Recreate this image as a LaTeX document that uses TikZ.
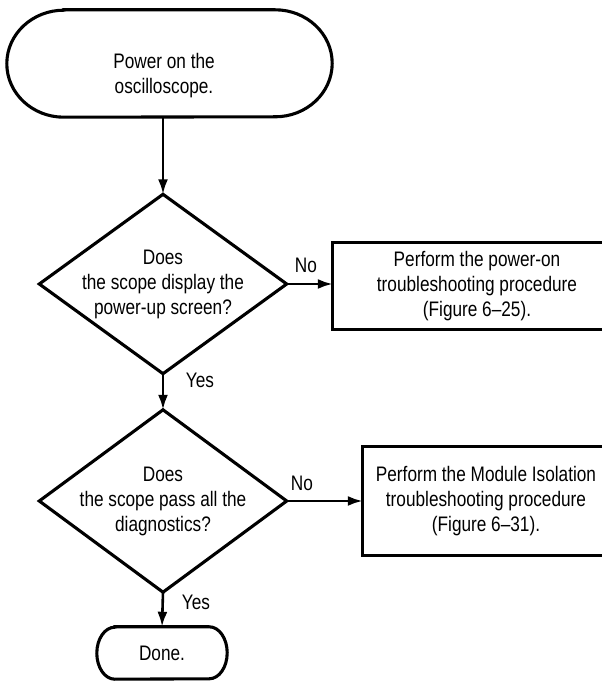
\documentclass[tikz,border=0pt]{standalone}
\usepackage{fontspec}
\setmainfont{Liberation Sans}[FakeStretch=0.82]
\usetikzlibrary{arrows.meta}
\begin{document}
\begin{tikzpicture}[x=1pt,y=1pt,
  shapeline/.style={line width=3.1pt, line join=miter},
  conn/.style={line width=2.6pt, -{Latex[length=15pt,width=10pt]}},
  txt/.style={align=center, font=\fontsize{21}{25}\selectfont, inner sep=0pt},
  lbl/.style={font=\fontsize{21}{25}\selectfont, inner sep=0pt},
  holder/.style={draw=none, inner sep=0pt, shape=rectangle, align=center, font=\fontsize{21}{25}\selectfont}
]
\path[use as bounding box, clip] (0,0) rectangle (602,681);
\fill[white] (0,0) rectangle (602,681);

% start terminator
\node[holder, minimum width=325pt, minimum height=107pt] (t1) at (169.5,617.5) {};
\draw[shapeline] ([xshift=57pt]t1.north west) -- ([xshift=-57pt]t1.north east)
  arc[start angle=90, end angle=-90, x radius=57pt, y radius=53.5pt]
  -- ([xshift=57pt]t1.south west)
  arc[start angle=270, end angle=90, x radius=57pt, y radius=53.5pt] -- cycle;
\node[txt] (t1txt) at (164,605) {Power on the\\oscilloscope.};

% decision 1
\node[holder, minimum width=247pt, minimum height=179pt] (d1) at (163,397) {Does\\the scope display the\\power-up screen?};
\draw[shapeline] (d1.north) -- (d1.east) -- (d1.south) -- (d1.west) -- cycle;

% box 1 (runs past the right edge)
\node[holder, minimum width=288pt, minimum height=86pt] (b1) at (477,395) {Perform the power-on\\troubleshooting procedure\\(Figure 6--25).};
\draw[shapeline] (b1.north east) -- (b1.north west) -- (b1.south west) -- (b1.south east);

% decision 2
\node[holder, minimum width=247pt, minimum height=182pt] (d2) at (163,180) {Does\\the scope pass all the\\diagnostics?};
\draw[shapeline] (d2.north) -- (d2.east) -- (d2.south) -- (d2.west) -- cycle;

% box 2 (runs past the right edge)
\node[holder, minimum width=246pt, minimum height=108pt] (b2) at (486,180) {Perform the Module Isolation\\troubleshooting procedure\\(Figure 6--31).};
\draw[shapeline] (b2.north east) -- (b2.north west) -- (b2.south west) -- (b2.south east);

% done terminator
\node[holder, minimum width=130pt, minimum height=52pt] (done) at (162,28) {Done.};
\draw[shapeline] ([xshift=18pt]done.north west) -- ([xshift=-18pt]done.north east)
  arc[start angle=90, end angle=-90, x radius=18pt, y radius=26pt]
  -- ([xshift=18pt]done.south west)
  arc[start angle=270, end angle=90, x radius=18pt, y radius=26pt] -- cycle;

% connectors
\draw[conn] (t1.south -| d1.north) -- (d1.north);
\draw[conn] (d1.east) -- (d1.east -| b1.west);
\draw[conn] (d1.south) -- (d2.north);
\draw[conn] (d2.east) -- (d2.east -| b2.west);
\draw[conn] (d2.south) -- (done.north);

% labels
\node[lbl] (no1) at (306,416) {No};
\node[lbl] (yes1) at (200,301) {Yes};
\node[lbl] (no2) at (302,198) {No};
\node[lbl] (yes2) at (196,79) {Yes};
\end{tikzpicture}
\end{document}
